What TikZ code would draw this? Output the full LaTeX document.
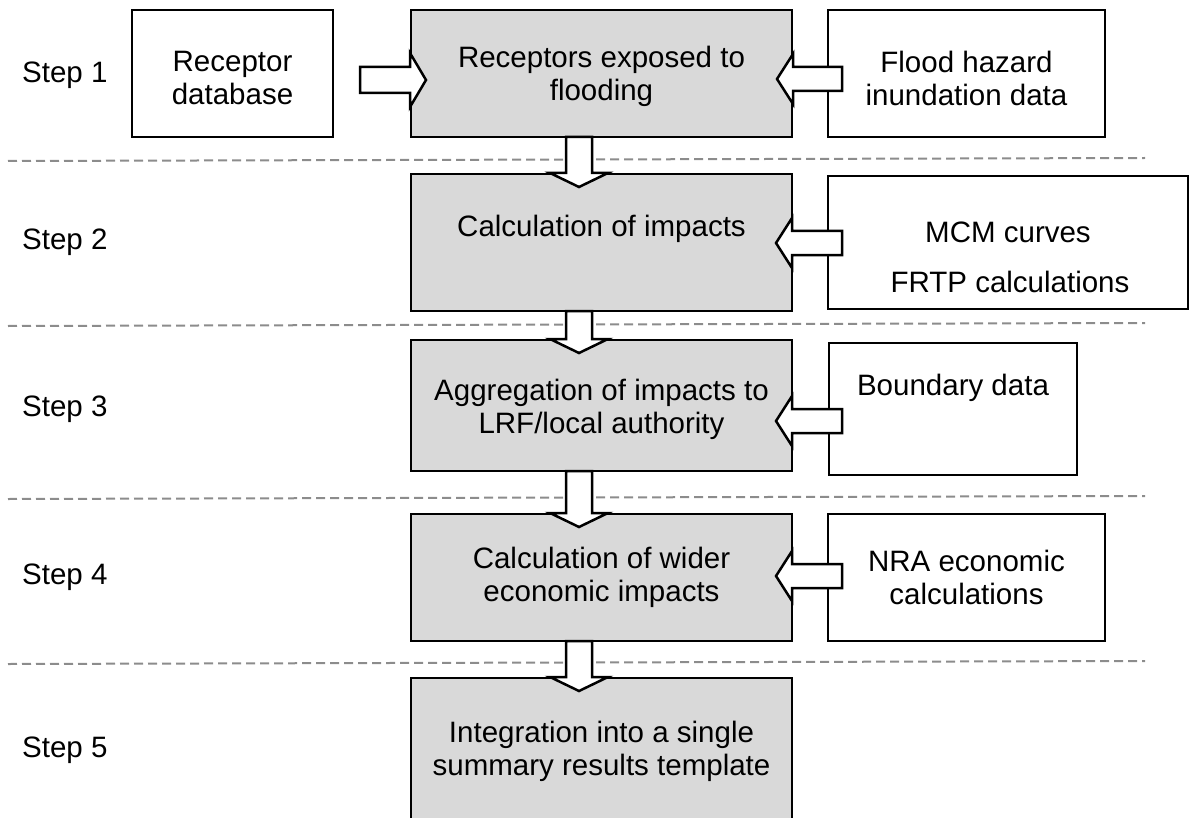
\documentclass[tikz,border=0pt]{standalone}
\usepackage{fontspec}
\setmainfont{Liberation Sans}
\begin{document}
\begin{tikzpicture}[x=1pt,y=-1pt,
  box/.style={draw=black,line width=2.5pt,fill=white,inner sep=0pt},
  gbox/.style={box,fill=black!15},
  txt/.style={font=\fontsize{29.5}{33}\selectfont,align=center,inner sep=0pt},
  sep/.style={draw=black!45,line width=2pt,dash pattern=on 9pt off 5pt},
  barrow/.style={draw=black,line width=2.5pt,fill=white,line join=miter}]
\useasboundingbox (0,0) rectangle (1190,818);
% separators
\draw[sep] (8,161) -- (1145,158);
\draw[sep] (8,326) -- (1145,323);
\draw[sep] (8,499) -- (1145,496);
\draw[sep] (8,664) -- (1145,661);
% step labels
\node[txt,anchor=west] (s1) at (22,75) {Step 1};
\node[txt,anchor=west] (s2) at (22,242) {Step 2};
\node[txt,anchor=west] (s3) at (22,409) {Step 3};
\node[txt,anchor=west] (s4) at (22,577) {Step 4};
\node[txt,anchor=west] (s5) at (22,750) {Step 5};
% boxes (corner coordinates)
\path[box] (132,10) rectangle (333,137); \coordinate (l1) at (232.5,73.5);
\path[gbox] (411,10) rectangle (792,137); \coordinate (m1) at (601.5,73.5);
\path[box] (828,10) rectangle (1105,137); \coordinate (r1) at (966.5,73.5);
\path[gbox] (411,174) rectangle (792,311); \coordinate (m2) at (601.5,242);
\path[box] (828,176) rectangle (1188,309); \coordinate (r2) at (1008,242);
\path[gbox] (411,340) rectangle (792,471); \coordinate (m3) at (601.5,405);
\path[box] (829,343) rectangle (1077,475); \coordinate (r3) at (953,409);
\path[gbox] (411,514) rectangle (792,641); \coordinate (m4) at (601.5,577);
\path[box] (828,514) rectangle (1105,641); \coordinate (r4) at (966.5,577);
\path[gbox] (411,678) rectangle (792,835); \coordinate (m5) at (601.5,750);
% texts
\node[txt] (l1t) at (232.5,78) {Receptor\\database};
\node[txt] (m1t) at (601.5,76) {Receptors exposed to\\flooding};
\node[txt] (r1t) at (966.5,78) {Flood hazard\\inundation data};
\node[txt] (m2t) at (601.5,229) {Calculation of impacts};
\node[txt] (r2a) at (1008,232) {MCM curves};
\node[txt] (r2b) at (1010,282) {FRTP calculations};
\node[txt] (m3t) at (601.5,409) {Aggregation of impacts to\\LRF/local authority};
\node[txt] (r3t) at (953,388) {Boundary data};
\node[txt] (m4t) at (601.5,577) {Calculation of wider\\economic impacts};
\node[txt] (r4t) at (966.5,577) {NRA economic\\calculations};
\node[txt] (m5t) at (601.5,751) {Integration into a single\\summary results template};
% block arrows
\newcommand{\dnarr}[3]{\filldraw[barrow] (#1-13,#2) -- (#1+13,#2) -- (#1+13,#3-14) -- (#1+29,#3-14) -- (#1,#3) -- (#1-29,#3-14) -- (#1-13,#3-14) -- cycle;}
\newcommand{\lfarr}[2]{\filldraw[barrow] (#1,#2) -- (#1+16,#2-25) -- (#1+16,#2-12) -- (842,#2-12) -- (842,#2+12) -- (#1+16,#2+12) -- (#1+16,#2+25) -- cycle;}
\filldraw[barrow] (426,80) -- (410,53) -- (410,67) -- (360,67) -- (360,93) -- (410,93) -- (410,107) -- cycle;
\lfarr{777}{79}
\lfarr{776}{243}
\lfarr{776}{421}
\lfarr{776}{576}
\dnarr{579}{137}{187}
\dnarr{579}{311}{353}
\dnarr{579}{471}{527}
\dnarr{579}{641}{691}
\end{tikzpicture}
\end{document}
